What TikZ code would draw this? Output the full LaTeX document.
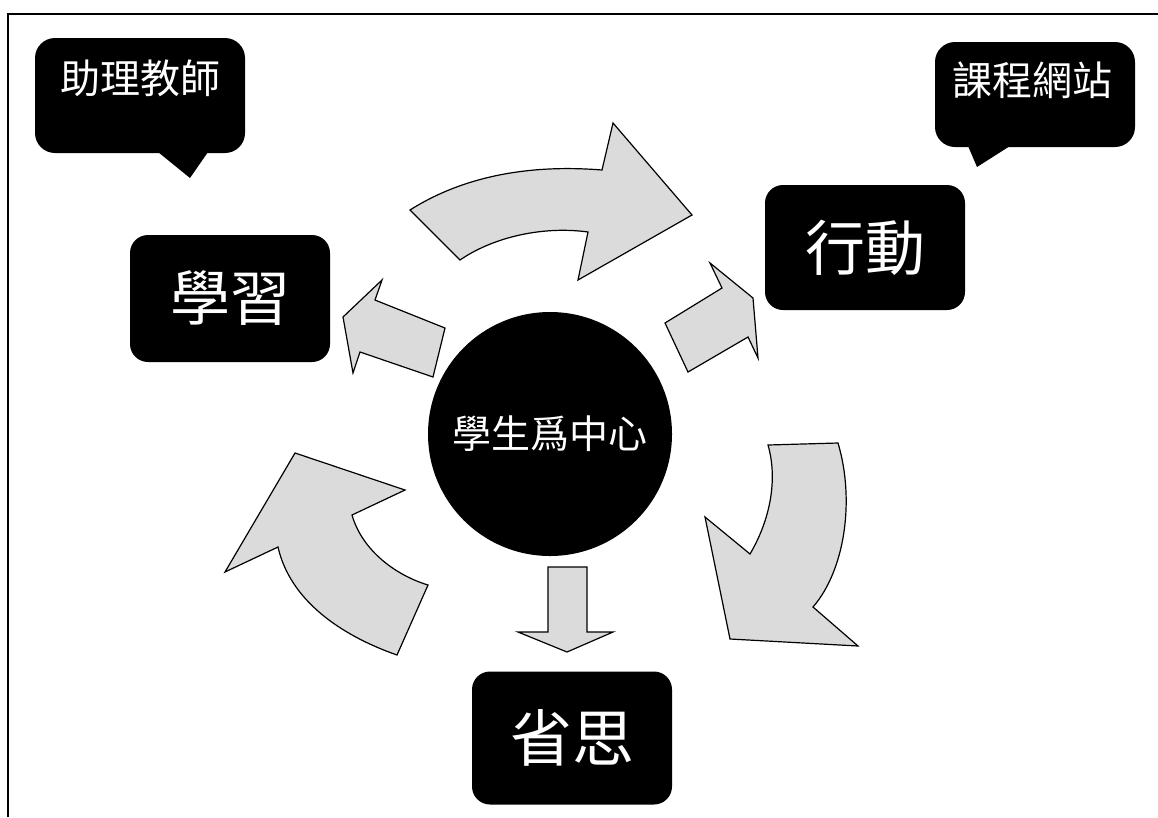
\documentclass[tikz,border=0pt]{standalone}
\usepackage{fontspec}
\newfontfamily\cjk{Noto Sans CJK TC}
\usetikzlibrary{arrows,shapes,calc,positioning}

\begin{document}
\begin{tikzpicture}[x=1pt, y=-1pt]
		\tikzstyle{every node}=[font=\cjk, text=white]
		\tikzstyle{stagebox}=[fill=black, rounded corners=18pt, minimum width=200pt, inner sep=0pt]
		\tikzstyle{bubble}=[fill=black, rounded corners=20pt, inner sep=0pt]
		\tikzstyle{flow}=[fill=gray!28, draw=black, line width=1.2pt, line join=miter]
		\useasboundingbox (0,0) rectangle (1158,817);
		\draw [line width=1.5pt] (8,817) -- (8,14) -- (1158,14);
		% callouts
		\node [bubble, minimum width=210pt, minimum height=115pt] (helper) at (140,95.5) {};
		\fill (158,152) -- (190,178) -- (208,152) -- cycle;
		\node [font={\cjk\fontsize{40}{40}\selectfont}] (helpertext) at (140,78) {助理教師};
		\node [bubble, minimum width=200pt, minimum height=105pt] (site) at (1035,94.5) {};
		\fill (968,146) -- (977,167) -- (1010,146) -- cycle;
		\node [font={\cjk\fontsize{40}{40}\selectfont}] (sitetext) at (1032,80) {課程網站};
		% stages
		\node [stagebox, minimum height=127pt, font={\cjk\fontsize{60}{60}\selectfont}] (learn) at (230,298.5) {學習};
		\node [stagebox, minimum height=125pt, font={\cjk\fontsize{60}{60}\selectfont}] (act) at (865,247.5) {行動};
		\node [stagebox, minimum height=133pt, font={\cjk\fontsize{62}{62}\selectfont}] (reflect) at (572,738) {省思};
		\node [circle, fill=black, minimum size=244pt, inner sep=0pt, font={\cjk\fontsize{39}{39}\selectfont}] (hub) at (550,434) {學生爲中心};
		% cycle arrows
		\draw [flow] (410,210) .. controls (470,172) and (540,165) .. (602,170) -- (613,123) -- (692,215) -- (578,280) -- (588,232) .. controls (545,226) and (495,236) .. (460,260) -- cycle;
		\draw [flow] (768,445) -- (838,443) .. controls (855,500) and (845,570) .. (813,607) -- (858,646) -- (730,639) -- (705,517) -- (750,554) .. controls (770,520) and (778,480) .. (768,445) -- cycle;
		\draw [flow] (295,453) -- (405,490) -- (352,515) .. controls (362,550) and (395,575) .. (428,585) -- (397,655) .. controls (340,635) and (290,600) .. (278,547) -- (225,572) -- cycle;
		% hub arrows
		\draw [flow] (343,317) -- (382,280) -- (375,300) -- (445,328) -- (433,377) -- (360,352) -- (353,373) -- cycle;
		\draw [flow] (665,323) -- (722,288) -- (710,263) -- (753,298) -- (758,358) -- (748,337) -- (688,372) -- cycle;
		\draw [flow] (548,567) -- (587,567) -- (587,632) -- (613,632) -- (567,652) -- (518,632) -- (548,632) -- cycle;
\end{tikzpicture}
\end{document}
